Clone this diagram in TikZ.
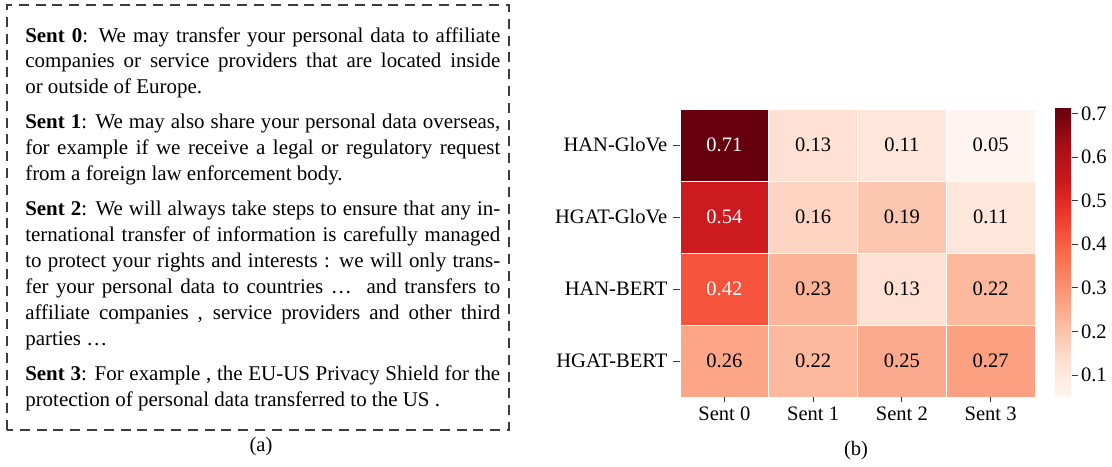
\documentclass[tikz,border=0pt]{standalone}
\usepackage{fontspec}
\setmainfont{Liberation Serif}
\usepackage{tikz}
\usetikzlibrary{positioning}
\definecolor{Marco}{HTML}{3C3C3C}
\definecolor{Tick}{HTML}{3A3A3A}
% paleta Reds del mapa de calor
\definecolor{RedsA}{HTML}{FFF5F0}
\definecolor{RedsB}{HTML}{FEE0D2}
\definecolor{RedsC}{HTML}{FCBBA1}
\definecolor{RedsD}{HTML}{FC9272}
\definecolor{RedsE}{HTML}{FB6A4A}
\definecolor{RedsF}{HTML}{EF3B2C}
\definecolor{RedsG}{HTML}{CB181D}
\definecolor{RedsH}{HTML}{A50F15}
\definecolor{RedsI}{HTML}{67000D}
% un color por valor de celda
\definecolor{v71}{HTML}{67000D}
\definecolor{v54}{HTML}{CD1A1E}
\definecolor{v42}{HTML}{F5533C}
\definecolor{v27}{HTML}{FCA082}
\definecolor{v26}{HTML}{FCA587}
\definecolor{v25}{HTML}{FCAA8D}
\definecolor{v23}{HTML}{FCB498}
\definecolor{v22}{HTML}{FCB99E}
\definecolor{v19}{HTML}{FDC6B0}
\definecolor{v16}{HTML}{FDD4C2}
\definecolor{v13}{HTML}{FEE1D3}
\definecolor{v11}{HTML}{FEE6DA}
\definecolor{v05}{HTML}{FFF5F0}
\tikzset{
  cell/.style={rectangle,draw=white,line width=0.6pt,inner sep=0pt,
    minimum width=2.21875cm,minimum height=1.8cm},
  axlab/.style={inner sep=0pt,font=\fontsize{14.6}{17}\selectfont},
  tick/.style={Tick,line width=0.6pt}
}

\begin{document}
\begin{tikzpicture}
  \useasboundingbox (0,0) rectangle (27.8,11.675);

  % (a) oraciones del documento
  \draw[Marco,line width=0.8pt,dash pattern=on 0.25cm off 0.17cm]
    (0.175,0.925) rectangle (12.725,11.55);
  \node[anchor=north west,text width=11.875cm,inner sep=0pt,align=justify,
        font=\fontsize{14.9}{18.4}\selectfont] (sents) at (0.625,11.0) {%
    \setlength{\parskip}{6.6pt}%
    \textbf{Sent 0}: We may transfer your personal data to affiliate\linebreak
    companies or service providers that are located inside\linebreak
    or outside of Europe.\par
    \textbf{Sent 1}: We may also share your personal data overseas,\linebreak
    for example if we receive a legal or regulatory request\linebreak
    from a foreign law enforcement body.\par
    \textbf{Sent 2}: We will always take steps to ensure that any in-\linebreak
    ternational transfer of information is carefully managed\linebreak
    to protect your rights and interests : we will only trans-\linebreak
    fer your personal data to countries \ldots\ \ and transfers to\linebreak
    affiliate companies , service providers and other third\linebreak
    parties \ldots\par
    \textbf{Sent 3}: For example , the EU-US Privacy Shield for the\linebreak
    protection of personal data transferred to the US .};
  \node[axlab] (capa) at (6.525,0.5) {(a)};

  % (b) mapa de calor de atención por oración
  \foreach \r/\vals in {0/{71,13,11,05},1/{54,16,19,11},2/{42,23,13,22},3/{26,22,25,27}}{
    \foreach \v [count=\c from 0] in \vals {
      \ifnum\v>35 \def\ink{white}\else\def\ink{black}\fi
      \node[cell,fill=v\v,text=\ink,font=\fontsize{14.6}{17}\selectfont]
        (cell-\r-\c) at ({17+(\c+0.5)*2.21875},{8.95-(\r+0.5)*1.8}) {0.\v};
    }
  }
  \foreach \r/\name in {0/HAN-GloVe,1/HGAT-GloVe,2/HAN-BERT,3/HGAT-BERT}{
    \node[axlab,left=0.3cm of cell-\r-0] (row-\r) {\name};
    \draw[tick] (cell-\r-0.west) -- ++(-0.175,0);
  }
  \foreach \c in {0,...,3}{
    \node[axlab,below=0.22cm of cell-3-\c] (col-\c) {Sent \c};
    \draw[tick] (cell-3-\c.south) -- ++(0,-0.125);
  }

  % barra de color, de 0.05 a 0.71, en ocho tramos
  \foreach \lo/\hi [count=\k from 0] in {RedsA/RedsB,RedsB/RedsC,RedsC/RedsD,RedsD/RedsE,
      RedsE/RedsF,RedsF/RedsG,RedsG/RedsH,RedsH/RedsI}
    \shade[bottom color=\lo,top color=\hi]
      (26.375,{1.75+0.9*\k}) rectangle (26.775,{1.75+0.9*(\k+1)+0.01});
  \node[inner sep=0pt,minimum width=0.4cm,minimum height=7.2cm,
        anchor=south west] (bar) at (26.375,1.75) {};
  \foreach \t in {1,...,7}{
    \pgfmathsetmacro{\ty}{1.75+(\t/10-0.05)/0.66*7.2}
    \draw[tick] (bar.east |- 0,\ty) -- ++(0.15,0) coordinate (bt-\t);
    \node[axlab,anchor=west] (bl-\t) at ([xshift=0.08cm]bt-\t) {0.\t};
  }
  \node[axlab] (capb) at (21.4,0.4) {(b)};
\end{tikzpicture}
\end{document}
